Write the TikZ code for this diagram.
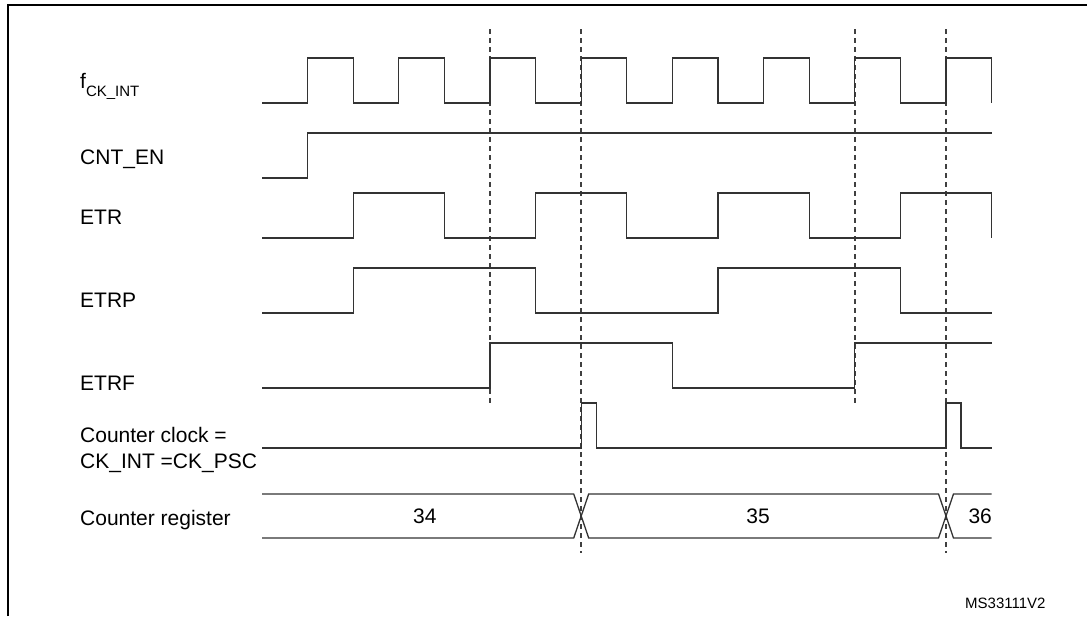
\documentclass[tikz,border=0pt]{standalone}
\usepackage{fontspec}
\setmainfont{Liberation Sans}
\begin{document}
\begin{tikzpicture}[x=1pt,y=-1pt,
  sig/.style={draw=black!80, line width=1.3pt, line join=miter},
  guide/.style={draw=black!75, line width=1.6pt, dash pattern=on 5pt off 4pt},
  lbl/.style={anchor=base west, inner sep=0pt, font=\fontsize{21}{25}\selectfont},
  val/.style={anchor=center, inner sep=0pt, font=\fontsize{21}{25}\selectfont},
  frame/.style={draw=black, line width=2pt}]
\useasboundingbox (0,0) rectangle (1087,616);
\fill[white] (0,0) rectangle (1087,616);
% frame (cropped)
\draw[frame] (8,616) -- (8,5) -- (1087,5);
% labels
\node[lbl] (lclk) at (80,88) {f\raisebox{-8pt}{\fontsize{15}{18}\selectfont CK\_INT}};
\node[lbl] (len) at (80,164) {CNT\_EN};
\node[lbl] (letr) at (80,224) {ETR};
\node[lbl] (letrp) at (80,307) {ETRP};
\node[lbl] (letrf) at (80,390) {ETRF};
\node[lbl] (lcc1) at (80,442) {Counter clock =};
\node[lbl] (lcc2) at (80,468) {CK\_INT =CK\_PSC};
\node[lbl] (lreg) at (80,525) {Counter register};
\node[anchor=base west, inner sep=0pt, font=\fontsize{15}{18}\selectfont] (ref) at (965,608) {MS33111V2};
\begin{scope}[xshift=262pt, x=45.6pt]
% guides
\draw[guide] (5,29) -- (5,403);
\draw[guide] (7,29) -- (7,553);
\draw[guide] (13,29) -- (13,403);
\draw[guide] (15,29) -- (15,553);
% fCK_INT
\draw[sig] (0,103)--(1,103)--(1,58)--(2,58)--(2,103)--(3,103)--(3,58)--(4,58)--(4,103)--(5,103)--(5,58)--(6,58)--(6,103)--(7,103)--(7,58)--(8,58)--(8,103)--(9,103)--(9,58)--(10,58)--(10,103)--(11,103)--(11,58)--(12,58)--(12,103)--(13,103)--(13,58)--(14,58)--(14,103)--(15,103)--(15,58)--(16,58)--(16,103);
% CNT_EN
\draw[sig] (0,178)--(1,178)--(1,133)--(16,133);
% ETR
\draw[sig] (0,238)--(2,238)--(2,193)--(4,193)--(4,238)--(6,238)--(6,193)--(8,193)--(8,238)--(10,238)--(10,193)--(12,193)--(12,238)--(14,238)--(14,193)--(16,193)--(16,238);
% ETRP
\draw[sig] (0,313)--(2,313)--(2,268)--(6,268)--(6,313)--(10,313)--(10,268)--(14,268)--(14,313)--(16,313);
% ETRF
\draw[sig] (0,388)--(5,388)--(5,343)--(9,343)--(9,388)--(13,388)--(13,343)--(16,343);
% Counter clock
\draw[sig] (0,448)--(7,448)--(7,403)--(7.33,403)--(7.33,448)--(15,448)--(15,403)--(15.33,403)--(15.33,448)--(16,448);
% Counter register
\draw[sig] (0,494)--(6.836,494)--(7.164,538)--(14.836,538)--(15.164,494)--(16,494);
\draw[sig] (0,538)--(6.836,538)--(7.164,494)--(14.836,494)--(15.164,538)--(16,538);
\node[val] (v34) at (3.57,516) {34};
\node[val] (v35) at (10.88,516) {35};
\node[val] (v36) at (15.75,516) {36};
\end{scope}
\end{tikzpicture}
\end{document}
